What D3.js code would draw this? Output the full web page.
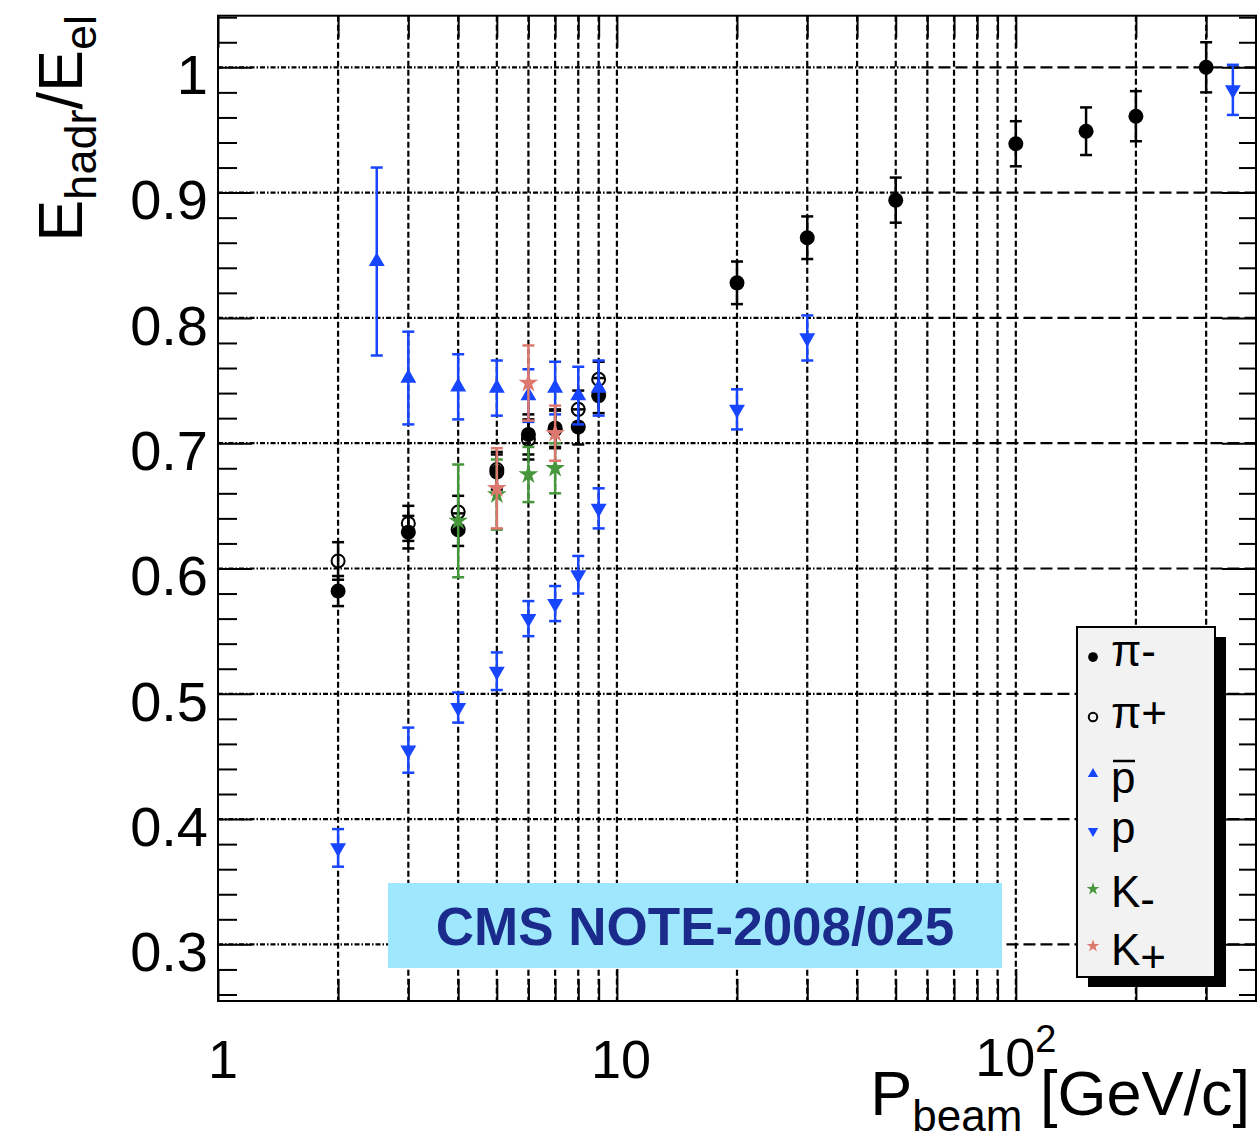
<!DOCTYPE html>
<html><head><meta charset="utf-8">
<script src="https://cdn.jsdelivr.net/npm/d3@7"></script>
<style>
body{margin:0;background:#fff}
text{font-family:"Liberation Sans",Arial,Helvetica,sans-serif}
</style>
</head><body>
<svg id="c" width="1259" height="1141"></svg>
<script>
// ---------------- data ----------------
const piMinusP   = [2, 3, 4, 5, 6, 7, 8, 9, 20, 30, 50, 100, 150, 200, 300];
const piMinusVal = [0.582, 0.629, 0.631, 0.677, 0.707, 0.711, 0.713, 0.738, 0.828, 0.864, 0.894, 0.939, 0.949, 0.961, 1.000];
const piMinusErr = [0.012, 0.013, 0.013, 0.014, 0.016, 0.015, 0.014, 0.014, 0.017, 0.017, 0.018, 0.018, 0.019, 0.020, 0.020];

const piPlusP   = [2, 3, 4, 5, 6, 7, 8, 9];
const piPlusVal = [0.606, 0.636, 0.645, 0.679, 0.703, 0.712, 0.727, 0.751];
const piPlusErr = [0.015, 0.014, 0.013, 0.014, 0.016, 0.015, 0.015, 0.014];

const pbarP   = [2.5, 3, 4, 5, 6, 7, 8, 9];
const pbarVal = [0.845, 0.752, 0.745, 0.744, 0.738, 0.744, 0.738, 0.744];
const pbarErr = [0.075, 0.037, 0.026, 0.022, 0.021, 0.021, 0.023, 0.022];

const protonP   = [2, 3, 4, 5, 6, 7, 8, 9, 20, 30, 350];
const protonVal = [0.377, 0.455, 0.489, 0.518, 0.560, 0.572, 0.595, 0.648, 0.727, 0.784, 0.982];
const protonErr = [0.015, 0.018, 0.012, 0.015, 0.014, 0.014, 0.015, 0.016, 0.016, 0.018, 0.020];

const kMinusP   = [4, 5, 6, 7];
const kMinusVal = [0.638, 0.659, 0.675, 0.680];
const kMinusErr = [0.045, 0.028, 0.022, 0.020];

const kPlusP   = [5, 6, 7];
const kPlusVal = [0.664, 0.748, 0.708];
const kPlusErr = [0.032, 0.030, 0.022];

const xMajorTicks = [1, 10, 100];
const xMinorTicks = [2,3,4,5,6,7,8,9,20,30,40,50,60,70,80,90,200,300];
const yMajorTicks = [0.3, 0.4, 0.5, 0.6, 0.7, 0.8, 0.9, 1.0];
const yMinorTicks = d3.range(0.26, 1.041, 0.02).map(v => +v.toFixed(2)).filter(v => !yMajorTicks.some(m => Math.abs(m - v) < 1e-6));

// ---------------- layout ----------------
const L = 218, R = 1256, T = 15.7, B = 1001;
const x = d3.scaleLog().domain([1, 400]).range([L, R]);
const y = d3.scaleLinear().domain([0.2548, 1.0412]).range([B, T]);

const BLUE = "#1846ff", GREEN = "#46963c", RED = "#dc786e";

const svg = d3.select("#c");
svg.append("rect").attr("width", 1259).attr("height", 1141).attr("fill", "#fff");

// ---------------- grid ----------------
const grid = svg.append("g");
grid.selectAll("line.v").data(xMinorTicks.concat([10, 100])).join("line")
  .attr("x1", d => x(d)).attr("x2", d => x(d)).attr("y1", T).attr("y2", B)
  .attr("stroke", "#000").attr("stroke-width", 2.2).attr("stroke-dasharray", "6,3");
grid.selectAll("line.h1").data(yMajorTicks).join("line")
  .attr("x1", L).attr("x2", x(58)).attr("y1", d => y(d)).attr("y2", d => y(d))
  .attr("stroke", "#000").attr("stroke-width", 2.2).attr("stroke-dasharray", "5,2,1.5,2");
grid.selectAll("line.h2").data(yMajorTicks).join("line")
  .attr("x1", x(58)).attr("x2", R).attr("y1", d => y(d)).attr("y2", d => y(d))
  .attr("stroke", "#000").attr("stroke-width", 2.2).attr("stroke-dasharray", "12,5");

// ---------------- CMS box ----------------
svg.append("rect").attr("x", 388).attr("y", 883).attr("width", 614).attr("height", 85).attr("fill", "#9ee7fc");
svg.append("text").attr("x", 695).attr("y", 945).attr("text-anchor", "middle")
  .attr("font-size", 53).attr("font-weight", "bold").attr("fill", "#1a2b8c").text("CMS NOTE-2008/025");

// ---------------- axes ----------------
function styleAxis(g) {
  g.select(".domain").remove();
  g.selectAll(".tick line").attr("stroke", "#000").attr("stroke-width", 2);
}
svg.append("g").attr("transform", `translate(${L},0)`)
  .call(d3.axisLeft(y).tickValues(yMajorTicks).tickSize(-34).tickPadding(10)
    .tickFormat(d => d === 1 ? "1" : d.toFixed(1)))
  .call(styleAxis)
  .call(g => g.selectAll("text").attr("font-size", 56).attr("fill", "#000")
    .attr("font-family", "Liberation Sans, Arial, sans-serif").attr("dy", "0.47em"));
svg.append("g").attr("transform", `translate(${L},0)`)
  .call(d3.axisLeft(y).tickValues(yMinorTicks).tickSize(-19).tickFormat(""))
  .call(styleAxis);
svg.append("g").attr("transform", `translate(${R},0)`)
  .call(d3.axisRight(y).tickValues(yMajorTicks).tickSize(-34).tickFormat(""))
  .call(styleAxis);
svg.append("g").attr("transform", `translate(${R},0)`)
  .call(d3.axisRight(y).tickValues(yMinorTicks).tickSize(-17).tickFormat(""))
  .call(styleAxis);
svg.append("g").attr("transform", `translate(0,${B})`)
  .call(d3.axisBottom(x).tickValues(xMajorTicks).tickSize(-32).tickFormat(""))
  .call(styleAxis);
svg.append("g").attr("transform", `translate(0,${B})`)
  .call(d3.axisBottom(x).tickValues(xMinorTicks).tickSize(-22).tickFormat(""))
  .call(styleAxis);
svg.append("g").attr("transform", `translate(0,${T})`)
  .call(d3.axisTop(x).tickValues(xMajorTicks).tickSize(-32).tickFormat(""))
  .call(styleAxis);
svg.append("g").attr("transform", `translate(0,${T})`)
  .call(d3.axisTop(x).tickValues(xMinorTicks).tickSize(-22).tickFormat(""))
  .call(styleAxis);

// x tick labels
const xl = svg.append("g").attr("font-size", 54).attr("fill", "#000");
xl.append("text").attr("x", x(1) + 5).attr("y", 1078).attr("text-anchor", "middle").text("1");
xl.append("text").attr("x", x(10) + 4).attr("y", 1078).attr("text-anchor", "middle").text("10");
const t100 = xl.append("text").attr("x", x(100)).attr("y", 1076).attr("text-anchor", "middle");
t100.append("tspan").text("10");
t100.append("tspan").attr("font-size", 38).attr("dy", -24).text("2");

// frame
svg.append("rect").attr("x", L).attr("y", T).attr("width", R - L).attr("height", B - T)
  .attr("fill", "none").attr("stroke", "#000").attr("stroke-width", 2);

// axis titles
const xt = svg.append("text").attr("x", 1250).attr("y", 1115).attr("text-anchor", "end").attr("font-size", 63);
xt.append("tspan").text("P");
xt.append("tspan").attr("font-size", 44).attr("dy", 16).text("beam");
xt.append("tspan").attr("dy", -16).text(" [GeV/c]");

const yt = svg.append("text").attr("transform", "translate(82,15) rotate(-90)")
  .attr("text-anchor", "end").attr("font-size", 63);
yt.append("tspan").text("E");
yt.append("tspan").attr("font-size", 45).attr("dy", 14).text("hadr");
yt.append("tspan").attr("dy", -14).text("/E");
yt.append("tspan").attr("font-size", 45).attr("dy", 14).text("el");

// ---------------- data series ----------------
const series = [
  {p: piMinusP, v: piMinusVal, e: piMinusErr, color: "#000", shape: "dot"},
  {p: piPlusP,  v: piPlusVal,  e: piPlusErr,  color: "#000", shape: "open"},
  {p: pbarP,    v: pbarVal,    e: pbarErr,    color: BLUE,   shape: "up"},
  {p: protonP,  v: protonVal,  e: protonErr,  color: BLUE,   shape: "down"},
  {p: kMinusP,  v: kMinusVal,  e: kMinusErr,  color: GREEN,  shape: "star"},
  {p: kPlusP,   v: kPlusVal,   e: kPlusErr,   color: RED,    shape: "star"}
];

function drawMarker(g, shape, color, scale) {
  const s = scale || 1;
  if (shape === "dot") {
    g.append("circle").attr("r", 7.5 * s).attr("fill", color);
  } else if (shape === "open") {
    g.append("circle").attr("r", 6.5 * s).attr("fill", "none").attr("stroke", color).attr("stroke-width", 2);
  } else if (shape === "up") {
    g.append("path").attr("d", d3.symbol(d3.symbolTriangle, 110 * s * s)()).attr("fill", color);
  } else if (shape === "down") {
    g.append("path").attr("d", d3.symbol(d3.symbolTriangle, 110 * s * s)()).attr("transform", "rotate(180)").attr("fill", color);
  } else if (shape === "star") {
    g.append("path").attr("d", d3.symbol(d3.symbolStar, 120 * s * s)()).attr("fill", color);
  }
}

const dataG = svg.append("g");
series.forEach(S => {
  const pts = S.p.map((p, i) => ({p, v: S.v[i], e: S.e[i]}));
  const g = dataG.append("g");
  const eb = g.selectAll("g.eb").data(pts).join("g").attr("stroke", S.color).attr("stroke-width", 2.5);
  eb.append("line").attr("x1", d => x(d.p)).attr("x2", d => x(d.p))
    .attr("y1", d => y(d.v + d.e)).attr("y2", d => y(d.v - d.e));
  eb.append("line").attr("x1", d => x(d.p) - 6).attr("x2", d => x(d.p) + 6)
    .attr("y1", d => y(d.v + d.e)).attr("y2", d => y(d.v + d.e));
  eb.append("line").attr("x1", d => x(d.p) - 6).attr("x2", d => x(d.p) + 6)
    .attr("y1", d => y(d.v - d.e)).attr("y2", d => y(d.v - d.e));
  g.selectAll("g.m").data(pts).join("g")
    .attr("transform", d => `translate(${x(d.p)},${y(d.v)})`)
    .each(function() { drawMarker(d3.select(this), S.shape, S.color); });
});

// ---------------- legend ----------------
const leg = svg.append("g");
leg.append("rect").attr("x", 1088).attr("y", 637).attr("width", 138).attr("height", 350).attr("fill", "#000");
leg.append("rect").attr("x", 1077).attr("y", 627).attr("width", 138).attr("height", 350)
  .attr("fill", "#f2f2f2").attr("stroke", "#000").attr("stroke-width", 2);
const legItems = [
  {shape: "dot",  color: "#000", my: 657, ty: 666, label: "π-"},
  {shape: "open", color: "#000", my: 717, ty: 728, label: "π+"},
  {shape: "up",   color: BLUE,  my: 774, ty: 793, label: "p", bar: true},
  {shape: "down", color: BLUE,  my: 831, ty: 843, label: "p"},
  {shape: "star", color: GREEN, my: 889, ty: 907, label: "K", sub: "-"},
  {shape: "star", color: RED,   my: 946, ty: 965, label: "K", sub: "+"}
];
legItems.forEach(it => {
  const m = leg.append("g").attr("transform", `translate(1093,${it.my})`);
  drawMarker(m, it.shape, it.color, 0.65);
  const t = leg.append("text").attr("x", 1111).attr("y", it.ty).attr("font-size", 44).attr("fill", "#000");
  t.append("tspan").text(it.label);
  if (it.sub) t.append("tspan").attr("dy", 7).text(it.sub);
  if (it.bar) leg.append("line").attr("x1", 1113).attr("x2", 1135).attr("y1", 761).attr("y2", 761)
    .attr("stroke", "#000").attr("stroke-width", 2.5);
});
</script>
</body></html>
